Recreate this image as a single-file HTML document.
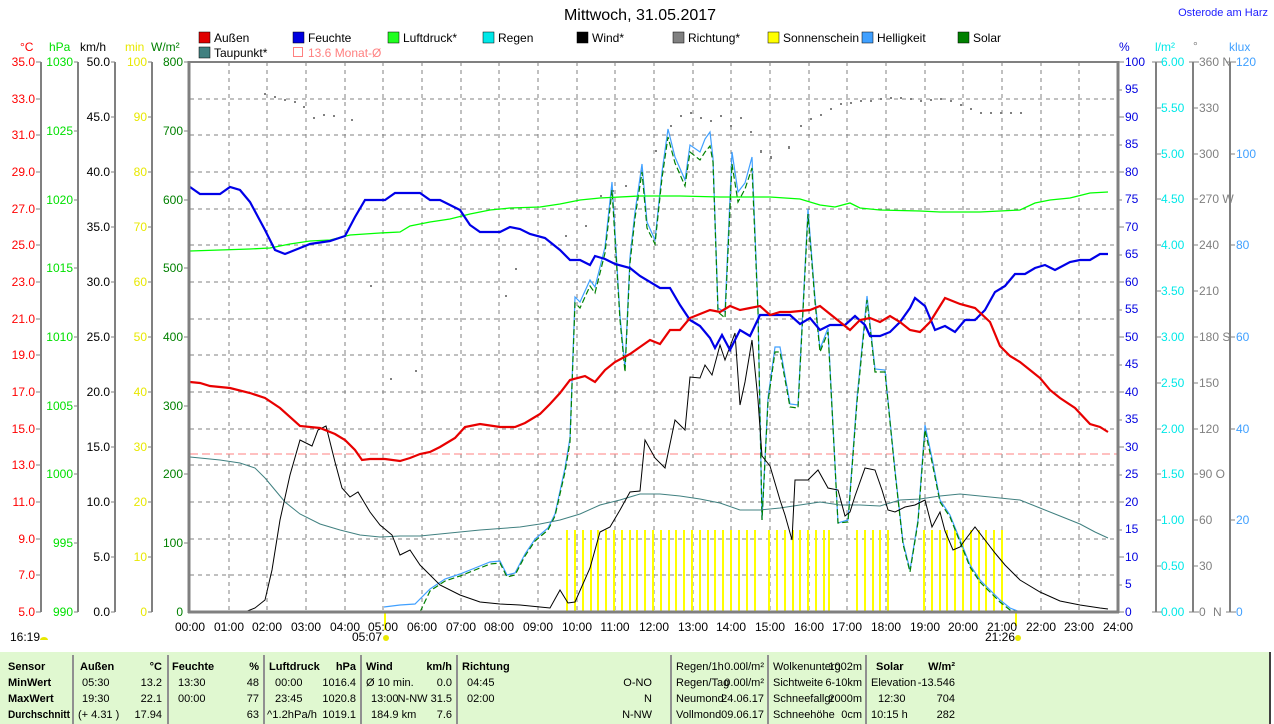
<!DOCTYPE html>
<html><head><meta charset="utf-8"><style>
body{margin:0;background:#fff;width:1274px;height:724px;overflow:hidden;font-family:"Liberation Sans",sans-serif}
svg{position:absolute;left:0;top:0}
</style></head><body>
<svg width="1274" height="724" viewBox="0 0 1274 724" font-family="Liberation Sans, sans-serif" font-size="12">
<text x="640" y="20" font-size="16" text-anchor="middle">Mittwoch, 31.05.2017</text>
<text x="1268" y="16" fill="#2020ff" text-anchor="end" font-size="11">Osterode am Harz</text>
<g font-size="12">
<rect x="199" y="32" width="11" height="11" fill="#e00000" stroke="#000" stroke-width="0.5"/><text x="214" y="42">Außen</text>
<rect x="293" y="32" width="11" height="11" fill="#0000e0" stroke="#000" stroke-width="0.5"/><text x="308" y="42">Feuchte</text>
<rect x="388" y="32" width="11" height="11" fill="#20ff20" stroke="#000" stroke-width="0.5"/><text x="403" y="42">Luftdruck*</text>
<rect x="483" y="32" width="11" height="11" fill="#00e8e8" stroke="#000" stroke-width="0.5"/><text x="498" y="42">Regen</text>
<rect x="577" y="32" width="11" height="11" fill="#000" stroke="#000" stroke-width="0.5"/><text x="592" y="42">Wind*</text>
<rect x="673" y="32" width="11" height="11" fill="#808080" stroke="#000" stroke-width="0.5"/><text x="688" y="42">Richtung*</text>
<rect x="768" y="32" width="11" height="11" fill="#ffff00" stroke="#000" stroke-width="0.5"/><text x="783" y="42">Sonnenschein</text>
<rect x="862" y="32" width="11" height="11" fill="#40a0ff" stroke="#000" stroke-width="0.5"/><text x="877" y="42">Helligkeit</text>
<rect x="958" y="32" width="11" height="11" fill="#008000" stroke="#000" stroke-width="0.5"/><text x="973" y="42">Solar</text>
<rect x="199" y="47" width="11" height="11" fill="#408080" stroke="#000" stroke-width="0.5"/><text x="214" y="57">Taupunkt*</text>
<rect x="293.5" y="47.5" width="9" height="9" fill="none" stroke="#ff8080"/><text x="308" y="57" fill="#ff8080">13.6 Monat-Ø</text>
</g>
<text x="20" y="51" fill="#ff0000">°C</text>
<text x="49" y="51" fill="#00e000">hPa</text>
<text x="80" y="51" fill="#000">km/h</text>
<text x="125" y="51" fill="#e8e800">min</text>
<text x="151" y="51" fill="#008000">W/m²</text>
<text x="1119" y="51" fill="#0000e0">%</text>
<text x="1155" y="51" fill="#00e8e8">l/m²</text>
<text x="1193" y="50" fill="#808080">°</text>
<text x="1229" y="51" fill="#40a0ff">klux</text>
<g stroke="#808080" stroke-width="2">
<line x1="41" y1="62" x2="41" y2="612"/><line x1="78" y1="62" x2="78" y2="612"/>
<line x1="115" y1="62" x2="115" y2="612"/><line x1="152" y1="62" x2="152" y2="612"/>
<line x1="1156" y1="62" x2="1156" y2="612"/><line x1="1193" y1="62" x2="1193" y2="612"/><line x1="1230" y1="62" x2="1230" y2="612"/>
</g>
<g stroke="#808080" stroke-dasharray="4,4" stroke-width="1">
<line x1="229" y1="62" x2="229" y2="612"/><line x1="267" y1="62" x2="267" y2="612"/><line x1="306" y1="62" x2="306" y2="612"/><line x1="345" y1="62" x2="345" y2="612"/><line x1="383" y1="62" x2="383" y2="612"/><line x1="422" y1="62" x2="422" y2="612"/><line x1="461" y1="62" x2="461" y2="612"/><line x1="499" y1="62" x2="499" y2="612"/><line x1="538" y1="62" x2="538" y2="612"/><line x1="577" y1="62" x2="577" y2="612"/><line x1="615" y1="62" x2="615" y2="612"/><line x1="654" y1="62" x2="654" y2="612"/><line x1="693" y1="62" x2="693" y2="612"/><line x1="731" y1="62" x2="731" y2="612"/><line x1="770" y1="62" x2="770" y2="612"/><line x1="809" y1="62" x2="809" y2="612"/><line x1="847" y1="62" x2="847" y2="612"/><line x1="886" y1="62" x2="886" y2="612"/><line x1="925" y1="62" x2="925" y2="612"/><line x1="963" y1="62" x2="963" y2="612"/><line x1="1002" y1="62" x2="1002" y2="612"/><line x1="1041" y1="62" x2="1041" y2="612"/><line x1="1079" y1="62" x2="1079" y2="612"/>
<line x1="190" y1="99" x2="1117" y2="99"/><line x1="190" y1="135" x2="1117" y2="135"/><line x1="190" y1="172" x2="1117" y2="172"/><line x1="190" y1="209" x2="1117" y2="209"/><line x1="190" y1="245" x2="1117" y2="245"/><line x1="190" y1="282" x2="1117" y2="282"/><line x1="190" y1="319" x2="1117" y2="319"/><line x1="190" y1="355" x2="1117" y2="355"/><line x1="190" y1="392" x2="1117" y2="392"/><line x1="190" y1="429" x2="1117" y2="429"/><line x1="190" y1="465" x2="1117" y2="465"/><line x1="190" y1="502" x2="1117" y2="502"/><line x1="190" y1="539" x2="1117" y2="539"/><line x1="190" y1="575" x2="1117" y2="575"/>
</g>
<g fill="#ff0000" text-anchor="end" font-size="12">
<text x="35" y="66">35.0</text><text x="35" y="103">33.0</text><text x="35" y="139">31.0</text><text x="35" y="176">29.0</text><text x="35" y="213">27.0</text><text x="35" y="249">25.0</text><text x="35" y="286">23.0</text><text x="35" y="323">21.0</text><text x="35" y="359">19.0</text><text x="35" y="396">17.0</text><text x="35" y="433">15.0</text><text x="35" y="469">13.0</text><text x="35" y="506">11.0</text><text x="35" y="543">9.0</text><text x="35" y="579">7.0</text><text x="35" y="616">5.0</text>
</g>
<g fill="#00e000" text-anchor="end"><text x="73" y="66">1030</text><text x="73" y="135">1025</text><text x="73" y="204">1020</text><text x="73" y="272">1015</text><text x="73" y="341">1010</text><text x="73" y="410">1005</text><text x="73" y="478">1000</text><text x="73" y="547">995</text><text x="73" y="616">990</text></g>
<g fill="#000" text-anchor="end"><text x="110" y="66">50.0</text><text x="110" y="121">45.0</text><text x="110" y="176">40.0</text><text x="110" y="231">35.0</text><text x="110" y="286">30.0</text><text x="110" y="341">25.0</text><text x="110" y="396">20.0</text><text x="110" y="451">15.0</text><text x="110" y="506">10.0</text><text x="110" y="561">5.0</text><text x="110" y="616">0.0</text></g>
<g fill="#e8e800" text-anchor="end"><text x="147" y="66">100</text><text x="147" y="121">90</text><text x="147" y="176">80</text><text x="147" y="231">70</text><text x="147" y="286">60</text><text x="147" y="341">50</text><text x="147" y="396">40</text><text x="147" y="451">30</text><text x="147" y="506">20</text><text x="147" y="561">10</text><text x="147" y="616">0</text></g>
<g fill="#008000" text-anchor="end"><text x="183" y="66">800</text><text x="183" y="135">700</text><text x="183" y="204">600</text><text x="183" y="272">500</text><text x="183" y="341">400</text><text x="183" y="410">300</text><text x="183" y="478">200</text><text x="183" y="547">100</text><text x="183" y="616">0</text></g>
<g stroke="#808080"><path d="M36 62h5M36 99h5M36 135h5M36 172h5M36 209h5M36 245h5M36 282h5M36 319h5M36 355h5M36 392h5M36 429h5M36 465h5M36 502h5M36 539h5M36 575h5M36 612h5
M74 62h4M74 131h4M74 200h4M74 268h4M74 337h4M74 406h4M74 474h4M74 543h4M74 612h4
M111 62h4M111 117h4M111 172h4M111 227h4M111 282h4M111 337h4M111 392h4M111 447h4M111 502h4M111 557h4M111 612h4
M148 62h4M148 117h4M148 172h4M148 227h4M148 282h4M148 337h4M148 392h4M148 447h4M148 502h4M148 557h4M148 612h4
M184 62h4M184 131h4M184 200h4M184 268h4M184 337h4M184 406h4M184 474h4M184 543h4"/></g>
<g stroke="#808080"><path d="M1119 62h5M1119 90h3M1119 117h5M1119 145h3M1119 172h5M1119 200h3M1119 227h5M1119 255h3M1119 282h5M1119 310h3M1119 337h5M1119 365h3M1119 392h5M1119 420h3M1119 447h5M1119 475h3M1119 502h5M1119 530h3M1119 557h5M1119 585h3M1119 612h5
M1152 62h10M1156 108h5M1156 154h5M1156 199h5M1156 245h5M1156 291h5M1156 337h5M1156 383h5M1156 429h5M1156 474h5M1156 520h5M1156 566h5M1152 612h10
M1189 62h10M1193 108h5M1193 154h5M1193 199h5M1193 245h5M1193 291h5M1193 337h5M1193 383h5M1193 429h5M1193 474h5M1193 520h5M1193 566h5M1189 612h10
M1226 62h10M1230 154h5M1230 245h5M1230 337h5M1230 429h5M1230 520h5M1226 612h10"/></g>
<g fill="#0000e0"><text x="1125" y="66">100</text><text x="1125" y="93">95</text><text x="1125" y="121">90</text><text x="1125" y="148">85</text><text x="1125" y="176">80</text><text x="1125" y="203">75</text><text x="1125" y="231">70</text><text x="1125" y="258">65</text><text x="1125" y="286">60</text><text x="1125" y="313">55</text><text x="1125" y="341">50</text><text x="1125" y="368">45</text><text x="1125" y="396">40</text><text x="1125" y="423">35</text><text x="1125" y="451">30</text><text x="1125" y="478">25</text><text x="1125" y="506">20</text><text x="1125" y="533">15</text><text x="1125" y="561">10</text><text x="1125" y="588">5</text><text x="1125" y="616">0</text></g>
<g fill="#00e8e8"><text x="1161" y="66">6.00</text><text x="1161" y="112">5.50</text><text x="1161" y="158">5.00</text><text x="1161" y="203">4.50</text><text x="1161" y="249">4.00</text><text x="1161" y="295">3.50</text><text x="1161" y="341">3.00</text><text x="1161" y="387">2.50</text><text x="1161" y="433">2.00</text><text x="1161" y="478">1.50</text><text x="1161" y="524">1.00</text><text x="1161" y="570">0.50</text><text x="1161" y="616">0.00</text></g>
<g fill="#808080"><text x="1199" y="66">360 N</text><text x="1199" y="112">330</text><text x="1199" y="158">300</text><text x="1199" y="203">270 W</text><text x="1199" y="249">240</text><text x="1199" y="295">210</text><text x="1199" y="341">180 S</text><text x="1199" y="387">150</text><text x="1199" y="433">120</text><text x="1199" y="478">90  O</text><text x="1199" y="524">60</text><text x="1199" y="570">30</text><text x="1199" y="616">0</text><text x="1213" y="616">N</text></g>
<g fill="#40a0ff"><text x="1236" y="66">120</text><text x="1236" y="158">100</text><text x="1236" y="249">80</text><text x="1236" y="341">60</text><text x="1236" y="433">40</text><text x="1236" y="524">20</text><text x="1236" y="616">0</text></g>
<line x1="190" y1="454" x2="1117" y2="454" stroke="#ff8080" stroke-dasharray="8,4"/>
<g stroke="#ffff00" stroke-width="2">
<path d="M567 530V612M575 530V612M583 530V612M591 530V612M598 530V612M606 530V612M614 530V612M622 530V612M630 530V612M637 530V612M645 530V612M653 530V612M661 530V612M669 530V612M676 530V612M684 530V612M692 530V612M700 530V612M708 530V612M715 530V612M723 530V612M731 530V612M739 530V612M747 530V612M755 530V612
M769 530V612M777 530V612M785 530V612M793 530V612M800 530V612M808 530V612M816 530V612M824 530V612M829 530V612
M857 530V612M865 530V612M873 530V612M880 530V612M888 530V612
M924 530V612M932 530V612M940 530V612M947 530V612M955 530V612M963 530V612M971 530V612M979 530V612M986 530V612M994 530V612M1002 530V612
M385 612V630M1016 612V626"/></g>
<g fill="#808080">
<rect x="264" y="93" width="2" height="2"/><rect x="274" y="96" width="2" height="2"/><rect x="284" y="99" width="2" height="2"/><rect x="294" y="101" width="2" height="2"/><rect x="303" y="106" width="2" height="2"/><rect x="313" y="117" width="2" height="2"/><rect x="323" y="114" width="2" height="2"/><rect x="333" y="115" width="2" height="2"/><rect x="351" y="119" width="2" height="2"/><rect x="370" y="285" width="2" height="2"/><rect x="390" y="378" width="2" height="2"/><rect x="415" y="370" width="2" height="2"/><rect x="505" y="295" width="2" height="2"/><rect x="515" y="268" width="2" height="2"/><rect x="565" y="235" width="2" height="2"/><rect x="585" y="225" width="2" height="2"/><rect x="600" y="195" width="2" height="2"/><rect x="612" y="190" width="2" height="2"/><rect x="625" y="185" width="2" height="2"/><rect x="641" y="170" width="2" height="2"/><rect x="655" y="150" width="2" height="2"/><rect x="670" y="125" width="2" height="2"/><rect x="680" y="115" width="2" height="2"/><rect x="690" y="112" width="2" height="2"/><rect x="700" y="117" width="2" height="2"/><rect x="710" y="120" width="2" height="2"/><rect x="720" y="115" width="2" height="2"/><rect x="730" y="125" width="2" height="2"/><rect x="740" y="117" width="2" height="2"/><rect x="750" y="131" width="2" height="2"/><rect x="760" y="150" width="2" height="3"/><rect x="770" y="156" width="2" height="3"/><rect x="788" y="146" width="2" height="3"/><rect x="800" y="125" width="2" height="2"/><rect x="810" y="118" width="2" height="2"/><rect x="820" y="114" width="2" height="2"/><rect x="830" y="108" width="2" height="2"/><rect x="840" y="103" width="2" height="2"/><rect x="850" y="102" width="2" height="2"/><rect x="860" y="100" width="2" height="2"/><rect x="870" y="100" width="2" height="2"/><rect x="880" y="98" width="2" height="2"/><rect x="890" y="97" width="2" height="2"/><rect x="900" y="97" width="2" height="2"/><rect x="910" y="98" width="2" height="2"/><rect x="920" y="100" width="2" height="2"/><rect x="930" y="99" width="2" height="2"/><rect x="940" y="98" width="2" height="2"/><rect x="950" y="100" width="2" height="2"/><rect x="960" y="104" width="2" height="2"/><rect x="970" y="108" width="2" height="2"/><rect x="980" y="112" width="2" height="2"/><rect x="990" y="112" width="2" height="2"/><rect x="1000" y="112" width="2" height="2"/><rect x="1010" y="112" width="2" height="2"/><rect x="1020" y="112" width="2" height="2"/>
</g>
<polyline fill="none" stroke="#40a0ff" stroke-width="1.2" points="384,607 400,605 415,604 430,589 445,579 460,574 475,568 490,562 500,561 507,575 515,573 525,554 535,539 548,528 555,514 565,468 570,438 575,297 580,302 590,280 595,287 605,247 612,182 620,316 625,368 630,257 635,212 642,164 647,222 655,240 662,172 668,129 675,157 685,180 690,145 700,152 705,139 710,132 713,158 718,308 725,312 732,152 738,192 745,183 752,157 758,308 762,520 768,398 775,347 780,347 790,404 798,405 808,209 815,298 820,349 828,328 838,523 848,520 857,398 867,296 875,369 885,370 895,470 903,542 910,570 918,520 925,425 932,458 940,500 950,515 960,540 970,565 980,580 990,590 1000,600 1010,608 1020,612"/>
<polyline fill="none" stroke="#008000" stroke-width="1.2" stroke-dasharray="6,3" points="420,612 430,591 445,581 460,576 475,570 490,564 500,563 507,577 515,575 525,556 535,541 548,530 555,516 565,472 570,442 575,303 580,308 590,286 595,293 605,253 612,190 620,320 625,372 630,263 635,218 642,172 647,228 655,244 662,178 668,137 675,163 685,186 690,152 700,160 705,152 710,146 713,162 718,312 725,318 732,164 738,202 745,189 752,168 758,312 762,520 768,402 775,352 780,352 790,407 798,408 808,214 815,302 820,352 828,332 838,523 848,522 857,402 867,300 875,372 885,372 895,472 903,544 910,572 918,522 925,430 932,462 940,502 950,517 960,542 970,567 980,582 990,592 1000,602 1010,610 1020,612"/>
<polyline fill="none" stroke="#408080" stroke-width="1" points="190,457 220,460 240,463 255,468 265,478 275,490 285,502 300,514 320,524 340,530 360,535 380,537 400,536 420,536 440,534 480,530 520,527 540,524 560,520 580,514 600,505 620,500 640,494 660,494 680,496 700,499 720,503 740,510 760,510 780,508 800,505 820,502 840,505 860,505 880,506 900,500 920,499 940,496 960,494 980,496 1000,498 1020,500 1040,508 1060,516 1080,524 1095,532 1108,538"/>
<polyline fill="none" stroke="#00ff00" stroke-width="1.3" points="190,251 250,249 270,248 290,244 310,241 330,240 350,235 380,233 400,232 410,226 430,222 450,219 470,214 490,210 510,208 540,207 560,204 580,200 600,198 640,196 680,196 720,197 770,197 800,199 820,205 835,207 850,203 860,208 880,210 920,211 940,212 980,212 1000,211 1020,210 1035,203 1050,200 1070,198 1090,193 1108,192"/>
<polyline fill="none" stroke="#000" stroke-width="1" points="190,612 245,612 255,608 265,600 272,570 280,520 290,475 300,440 312,446 318,430 326,426 335,462 342,488 350,497 358,492 370,512 380,525 392,535 400,555 410,550 420,565 440,585 460,595 480,602 500,604 520,605 540,607 550,608 560,590 568,603 575,602 590,568 600,532 610,527 620,510 630,492 640,491 645,440 655,458 665,468 675,420 685,430 690,377 700,378 705,365 712,375 720,345 725,360 735,333 740,405 745,382 752,340 758,400 762,456 770,466 780,500 785,515 792,540 795,480 808,480 818,470 828,488 838,490 845,516 850,512 855,496 865,468 875,470 882,490 888,510 895,512 905,507 915,505 925,500 932,527 940,512 945,531 953,550 960,547 965,540 975,527 985,540 995,553 1005,565 1020,580 1040,592 1060,601 1080,605 1100,608 1108,609"/>
<polyline fill="none" stroke="#0000e8" stroke-width="2.2" points="190,187 200,194 220,194 230,187 240,190 250,202 265,230 275,250 285,254 300,248 310,244 330,241 345,236 355,217 365,200 385,200 395,193 420,193 430,200 440,200 460,210 470,225 480,232 500,232 510,227 520,229 530,234 545,238 560,250 570,260 580,260 590,265 595,256 605,259 615,264 630,268 640,276 660,288 670,288 680,305 690,320 700,326 710,338 715,348 722,335 730,350 740,330 750,336 760,315 775,315 790,315 800,324 810,318 820,330 830,325 845,325 855,316 865,325 870,336 880,336 890,332 900,322 910,308 915,298 925,306 935,330 945,326 955,332 965,320 975,320 985,310 995,292 1005,286 1015,274 1025,274 1035,268 1045,265 1055,270 1070,262 1080,260 1090,260 1100,254 1108,254"/>
<polyline fill="none" stroke="#e80000" stroke-width="2.2" points="190,382 200,383 210,386 230,388 250,393 265,398 280,408 300,426 320,428 335,434 345,440 355,450 362,460 370,459 385,459 400,461 410,458 420,454 430,452 440,447 455,438 465,427 480,424 500,427 515,427 525,423 540,414 550,404 560,393 570,380 585,376 595,382 605,370 615,362 630,354 640,347 650,340 660,344 670,330 680,330 690,318 700,314 710,310 720,312 730,306 740,310 750,308 760,306 770,315 780,312 790,312 800,311 810,310 820,306 830,314 840,322 850,330 860,320 870,318 880,322 890,316 900,322 910,330 920,332 930,322 945,298 960,304 975,308 990,322 1000,346 1010,356 1020,362 1030,370 1040,378 1050,390 1060,398 1075,408 1090,424 1100,427 1108,432"/>
<g stroke="#808080" stroke-width="3" fill="none"><line x1="189" y1="61" x2="189" y2="613"/><line x1="188" y1="612" x2="1119" y2="612"/><line x1="1118" y1="61" x2="1118" y2="613"/><line x1="188" y1="62" x2="1119" y2="62" stroke-width="2"/></g>
<g text-anchor="middle" font-size="12"><text x="190" y="631">00:00</text><text x="229" y="631">01:00</text><text x="267" y="631">02:00</text><text x="306" y="631">03:00</text><text x="345" y="631">04:00</text><text x="383" y="631">05:00</text><text x="422" y="631">06:00</text><text x="461" y="631">07:00</text><text x="499" y="631">08:00</text><text x="538" y="631">09:00</text><text x="577" y="631">10:00</text><text x="615" y="631">11:00</text><text x="654" y="631">12:00</text><text x="693" y="631">13:00</text><text x="731" y="631">14:00</text><text x="770" y="631">15:00</text><text x="809" y="631">16:00</text><text x="847" y="631">17:00</text><text x="886" y="631">18:00</text><text x="925" y="631">19:00</text><text x="963" y="631">20:00</text><text x="1002" y="631">21:00</text><text x="1041" y="631">22:00</text><text x="1079" y="631">23:00</text><text x="1118" y="631">24:00</text></g>
<text x="10" y="641">16:19</text><path d="M40 640a4 3 0 0 1 8 0z" fill="#e8e800"/>
<text x="352" y="641">05:07</text><circle cx="386" cy="638" r="3" fill="#e8e800"/>
<text x="985" y="641">21:26</text><circle cx="1018" cy="638" r="3" fill="#e8e800"/>
<rect x="0" y="652" width="1270" height="72" fill="#e0f8d0"/>
<line x1="1270" y1="652" x2="1270" y2="724" stroke="#404040" stroke-width="2"/>
<g stroke="#909090" stroke-width="2"><line x1="73" y1="655" x2="73" y2="724"/><line x1="168" y1="655" x2="168" y2="724"/><line x1="264" y1="655" x2="264" y2="724"/><line x1="361" y1="655" x2="361" y2="724"/><line x1="457" y1="655" x2="457" y2="724"/><line x1="671" y1="655" x2="671" y2="724"/><line x1="768" y1="655" x2="768" y2="724"/><line x1="866" y1="655" x2="866" y2="724"/></g>
<g font-size="11">
<g font-weight="bold"><text x="8" y="670">Sensor</text><text x="8" y="686">MinWert</text><text x="8" y="702">MaxWert</text><text x="8" y="718" textLength="62" lengthAdjust="spacingAndGlyphs">Durchschnitt</text>
<text x="80" y="670">Außen</text><text x="162" y="670" text-anchor="end">°C</text>
<text x="172" y="670">Feuchte</text><text x="259" y="670" text-anchor="end">%</text>
<text x="269" y="670">Luftdruck</text><text x="356" y="670" text-anchor="end">hPa</text>
<text x="366" y="670">Wind</text><text x="452" y="670" text-anchor="end">km/h</text>
<text x="462" y="670">Richtung</text>
<text x="876" y="670">Solar</text><text x="955" y="670" text-anchor="end">W/m²</text></g>
<text x="82" y="686">05:30</text><text x="162" y="686" text-anchor="end">13.2</text>
<text x="82" y="702">19:30</text><text x="162" y="702" text-anchor="end">22.1</text>
<text x="78" y="718">(+ 4.31 )</text><text x="162" y="718" text-anchor="end">17.94</text>
<text x="178" y="686">13:30</text><text x="259" y="686" text-anchor="end">48</text>
<text x="178" y="702">00:00</text><text x="259" y="702" text-anchor="end">77</text>
<text x="259" y="718" text-anchor="end">63</text>
<text x="275" y="686">00:00</text><text x="356" y="686" text-anchor="end">1016.4</text>
<text x="275" y="702">23:45</text><text x="356" y="702" text-anchor="end">1020.8</text>
<text x="267" y="718" textLength="50" lengthAdjust="spacingAndGlyphs">^1.2hPa/h</text><text x="356" y="718" text-anchor="end">1019.1</text>
<text x="366" y="686">Ø 10 min.</text><text x="452" y="686" text-anchor="end">0.0</text>
<text x="371" y="702">13:00</text><text x="452" y="702" text-anchor="end">N-NW 31.5</text>
<text x="371" y="718">184.9 km</text><text x="452" y="718" text-anchor="end">7.6</text>
<text x="467" y="686">04:45</text><text x="652" y="686" text-anchor="end">O-NO</text>
<text x="467" y="702">02:00</text><text x="652" y="702" text-anchor="end">N</text>
<text x="652" y="718" text-anchor="end">N-NW</text>
<text x="676" y="670">Regen/1h</text><text x="764" y="670" text-anchor="end">0.00l/m²</text>
<text x="676" y="686">Regen/Tag</text><text x="764" y="686" text-anchor="end">0.00l/m²</text>
<text x="676" y="702">Neumond</text><text x="764" y="702" text-anchor="end">24.06.17</text>
<text x="676" y="718">Vollmond</text><text x="764" y="718" text-anchor="end">09.06.17</text>
<text x="773" y="670">Wolkenunterg</text><text x="862" y="670" text-anchor="end">1002m</text>
<text x="773" y="686">Sichtweite</text><text x="862" y="686" text-anchor="end">6-10km</text>
<text x="773" y="702">Schneefallgr</text><text x="862" y="702" text-anchor="end">2000m</text>
<text x="773" y="718">Schneehöhe</text><text x="862" y="718" text-anchor="end">0cm</text>
<text x="871" y="686">Elevation</text><text x="955" y="686" text-anchor="end">-13.546</text>
<text x="878" y="702">12:30</text><text x="955" y="702" text-anchor="end">704</text>
<text x="871" y="718">10:15 h</text><text x="955" y="718" text-anchor="end">282</text>
</g>
</svg>
</body></html>
